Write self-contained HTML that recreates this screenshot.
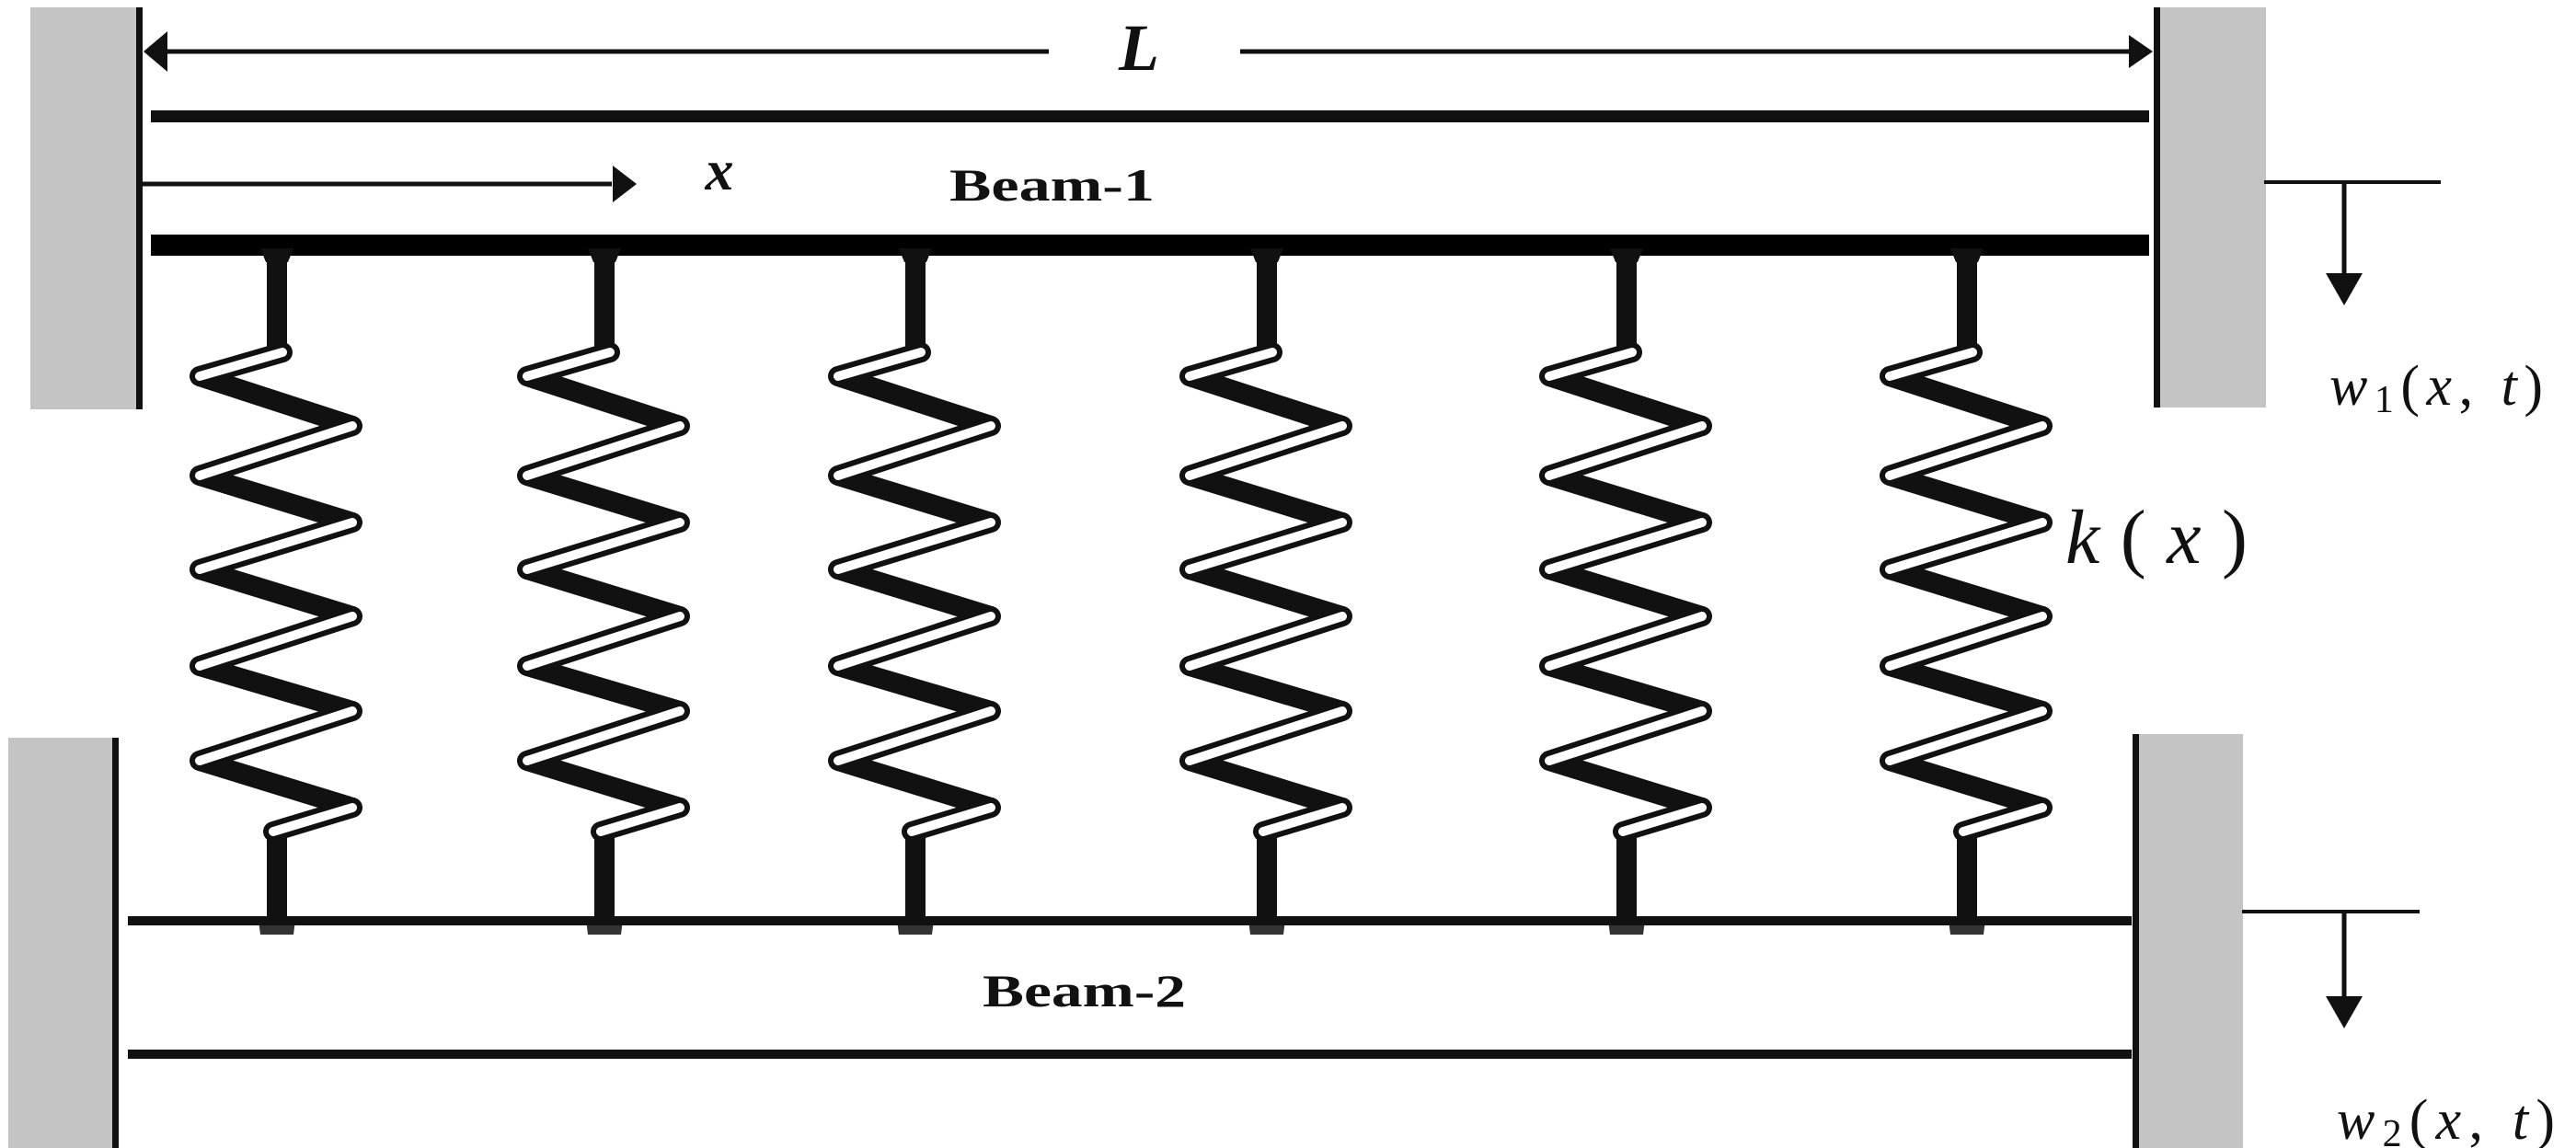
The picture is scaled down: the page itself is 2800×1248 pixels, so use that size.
<!DOCTYPE html>
<html><head><meta charset="utf-8"><style>
html,body{margin:0;padding:0;background:#fff;width:2800px;height:1248px;overflow:hidden}
svg{display:block}
</style></head><body>
<svg width="2800" height="1248" viewBox="0 0 2800 1248" xmlns="http://www.w3.org/2000/svg">
<defs>
<g id="spr">
  <rect x="-11" y="270" width="22" height="115" fill="#111"/>
  <path d="M-18 270 L18 270 L12 285 L-12 285Z" fill="#111"/>
  <rect x="-11" y="900" width="22" height="100" fill="#111"/>
  <path d="M-20 1000 L20 1000 L18 1016 L-18 1016Z" fill="#333"/>
  <g stroke="#111" stroke-width="22" stroke-linecap="butt" fill="none">
    <path d="M-84 409 L82 463 M-84 517 L82 568 M-84 619 L82 670 M-84 724 L82 773 M-84 827 L82 878"/>
  </g>
  <g fill="none" stroke-linecap="round" stroke-linejoin="round">
    <path d="M6 383 L-84 409 M82 463 L-84 517 M82 568 L-84 619 M82 670 L-84 724 M82 773 L-84 827 M82 878 L-4 904" stroke="#111" stroke-width="22"/>
    <path d="M6 383 L-84 409 M82 463 L-84 517 M82 568 L-84 619 M82 670 L-84 724 M82 773 L-84 827 M82 878 L-4 904" stroke="#fff" stroke-width="10"/>
  </g>
</g>
</defs>
<!-- walls -->
<rect x="33" y="8" width="117" height="437" fill="#c4c4c4"/>
<rect x="148" y="8" width="7" height="437" fill="#111"/>
<rect x="2345" y="8" width="118" height="435" fill="#c4c4c4"/>
<rect x="2341" y="8" width="7" height="435" fill="#111"/>
<rect x="9" y="802" width="116" height="446" fill="#c4c4c4"/>
<rect x="122" y="802" width="7" height="446" fill="#111"/>
<rect x="2321" y="798" width="117" height="450" fill="#c4c4c4"/>
<rect x="2318" y="798" width="7" height="450" fill="#111"/>
<!-- L dimension -->
<line x1="170" y1="56" x2="1140" y2="56" stroke="#111" stroke-width="5"/>
<line x1="1348" y1="56" x2="2320" y2="56" stroke="#111" stroke-width="5"/>
<path d="M156 56 L182 34 L182 78Z" fill="#111"/>
<path d="M2340 56 L2314 38 L2314 74Z" fill="#111"/>
<text x="1238" y="76" font-family="Liberation Serif, serif" font-style="italic" font-weight="bold" font-size="72" text-anchor="middle" fill="#111">L</text>
<!-- beam 1 -->
<rect x="164" y="120" width="2172" height="13" fill="#111"/>
<line x1="155" y1="200" x2="665" y2="200" stroke="#111" stroke-width="5"/>
<path d="M692 200 L666 180 L666 220Z" fill="#111"/>
<text x="782" y="206" font-family="Liberation Serif, serif" font-style="italic" font-weight="bold" font-size="62" text-anchor="middle" fill="#111">x</text>
<text x="1032" y="218" font-family="Liberation Serif, serif" font-weight="bold" font-size="50" textLength="223" lengthAdjust="spacingAndGlyphs" fill="#111">Beam-1</text>
<rect x="164" y="255" width="2172" height="23" fill="#000"/>
<!-- springs -->
<use href="#spr" transform="translate(301,0)"/>
<use href="#spr" transform="translate(657,0)"/>
<use href="#spr" transform="translate(995,0)"/>
<use href="#spr" transform="translate(1377,0)"/>
<use href="#spr" transform="translate(1768,0)"/>
<use href="#spr" transform="translate(2138,0)"/>
<!-- beam 2 -->
<rect x="139" y="996" width="2178" height="10" fill="#111"/>
<text x="1068" y="1094" font-family="Liberation Serif, serif" font-weight="bold" font-size="50" textLength="221" lengthAdjust="spacingAndGlyphs" fill="#111">Beam-2</text>
<rect x="139" y="1141" width="2178" height="10" fill="#111"/>
<!-- right annotations -->
<line x1="2461" y1="198" x2="2653" y2="198" stroke="#111" stroke-width="4"/>
<line x1="2548" y1="198" x2="2548" y2="305" stroke="#111" stroke-width="5"/>
<path d="M2548 332 L2528 297 L2568 297Z" fill="#111"/>
<text x="2532" y="440" font-family="Liberation Serif, serif" font-style="italic" font-size="62" textLength="232" lengthAdjust="spacing" fill="#111">w<tspan font-style="normal" font-size="42" dy="8">1</tspan><tspan font-style="normal" dy="-8">(</tspan>x<tspan font-style="normal">, </tspan>t<tspan font-style="normal">)</tspan></text>
<text x="2245" y="612" font-family="Liberation Serif, serif" font-style="italic" font-size="84" textLength="198" lengthAdjust="spacing" fill="#111">k<tspan font-style="normal">(</tspan>x<tspan font-style="normal">)</tspan></text>
<line x1="2437" y1="991" x2="2630" y2="991" stroke="#111" stroke-width="4"/>
<line x1="2548" y1="991" x2="2548" y2="1090" stroke="#111" stroke-width="5"/>
<path d="M2548 1118 L2528 1083 L2568 1083Z" fill="#111"/>
<text x="2540" y="1238" font-family="Liberation Serif, serif" font-style="italic" font-size="62" textLength="237" lengthAdjust="spacing" fill="#111">w<tspan font-style="normal" font-size="42" dy="8">2</tspan><tspan font-style="normal" dy="-8">(</tspan>x<tspan font-style="normal">, </tspan>t<tspan font-style="normal">)</tspan></text>
</svg>
</body></html>
